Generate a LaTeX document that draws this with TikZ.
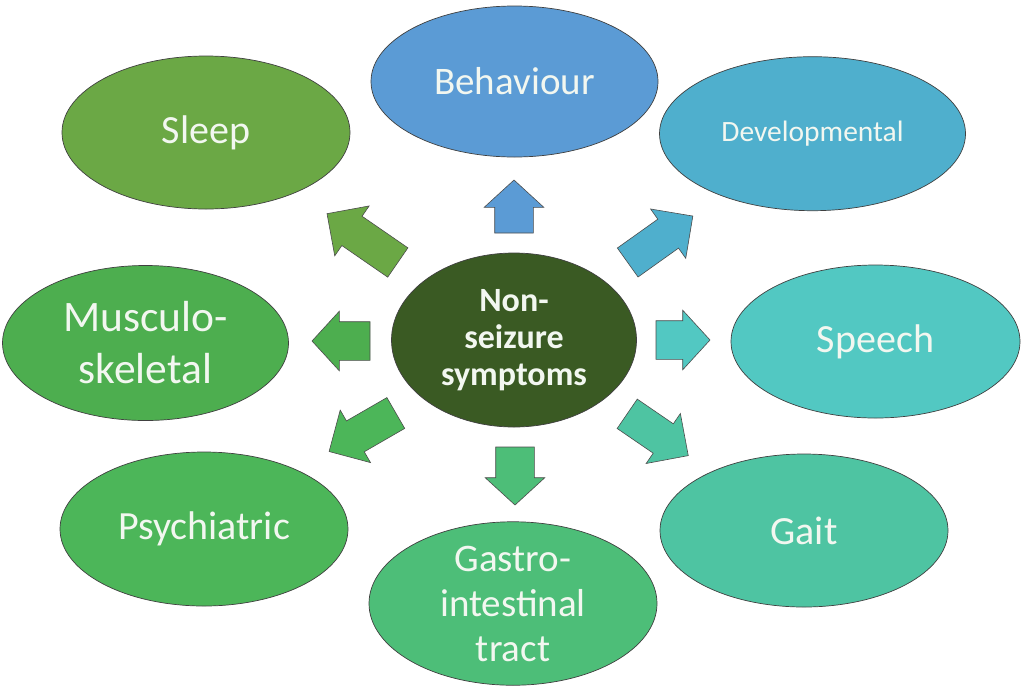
\documentclass[tikz,border=0pt]{standalone}
\usepackage{fontspec}
\setmainfont{Carlito}
\usepackage{xcolor}
\usetikzlibrary{shapes.geometric,shapes.arrows}
\definecolor{cCentre}{HTML}{3A5A23}
\definecolor{cBeh}{HTML}{5B9BD5}
\definecolor{cDev}{HTML}{4FAFCD}
\definecolor{cSpe}{HTML}{52C8C2}
\definecolor{cGai}{HTML}{4EC4A2}
\definecolor{cGas}{HTML}{4DBE78}
\definecolor{cPsy}{HTML}{4CB659}
\definecolor{cMus}{HTML}{4DAE4F}
\definecolor{cSle}{HTML}{6BA845}
\definecolor{txt}{HTML}{F2F7F0}

\begin{document}
\begin{tikzpicture}[x=1pt,y=-1pt,
  bubble/.style={ellipse,draw=black!75,line width=0.7pt,text=txt,align=center,inner sep=0pt,
    minimum width=288pt,minimum height=154pt,font=\fontsize{40}{46}\selectfont},
  blk/.style={single arrow,draw=black!70,line width=0.6pt,inner xsep=0pt,inner ysep=19pt,anchor=tail,
    single arrow head extend=10.5pt,single arrow tip angle=95,minimum width=1pt,outer sep=0pt},
  diag/.style={blk,inner ysep=17.5pt,single arrow head extend=12.5pt,single arrow tip angle=90}]
\useasboundingbox (0,0) rectangle (1027,697);
\node[bubble,fill=cCentre,minimum width=245pt,minimum height=174pt,
  font=\bfseries\fontsize{34}{37}\selectfont] (ctr) at (514,340) {Non-\\seizure\\symptoms};
\node[bubble,fill=cBeh,minimum width=287pt,minimum height=151pt,font=\fontsize{39}{45}\selectfont] (beh) at (514.5,81.5) {Behaviour};
\node[bubble,fill=cDev,minimum width=306pt,font=\fontsize{29.5}{35}\selectfont] (dev) at (812.5,133.7) {Developmental};
\node[bubble,fill=cSpe,minimum width=289pt,minimum height=153pt] (spe) at (875.5,341.5) {Speech};
\node[bubble,fill=cGai,minimum height=153pt] (gai) at (804,530.5) {Gait};
\node[bubble,fill=cGas,minimum height=155pt,font=\fontsize{39}{45}\selectfont] (gas) at (513,603.5) {Gastro-\\intestinal\\tract};
\node[bubble,fill=cPsy] (psy) at (204,529) {Psychiatric};
\node[bubble,fill=cMus,minimum width=286pt,minimum height=155pt,font=\fontsize{43.5}{52}\selectfont] (mus) at (145.5,343) {Musculo-\\skeletal};
\node[bubble,fill=cSle,minimum height=153pt] (sle) at (206,132.5) {Sleep};
\node[blk,fill=cBeh,rotate=90,minimum height=53pt] (aBeh) at (514,233) {};
\node[blk,fill=cGas,rotate=-90,minimum height=58pt] (aGas) at (515,447) {};
\node[blk,fill=cMus,rotate=180,minimum height=58pt] (aMus) at (370,341) {};
\node[blk,fill=cSpe,minimum height=54pt] (aSpe) at (656,340) {};
\node[diag,fill=cSle,rotate=145.4,minimum height=86pt] (aSle) at (397.8,262.5) {};
\node[diag,fill=cDev,rotate=35.5,minimum height=80pt] (aDev) at (627.7,262.5) {};
\node[diag,fill=cGai,rotate=-34.4,minimum height=74pt] (aGai) at (627.2,413.8) {};
\node[diag,fill=cPsy,rotate=-150,minimum height=77pt] (aPsy) at (395.8,413) {};
\end{tikzpicture}
\end{document}
